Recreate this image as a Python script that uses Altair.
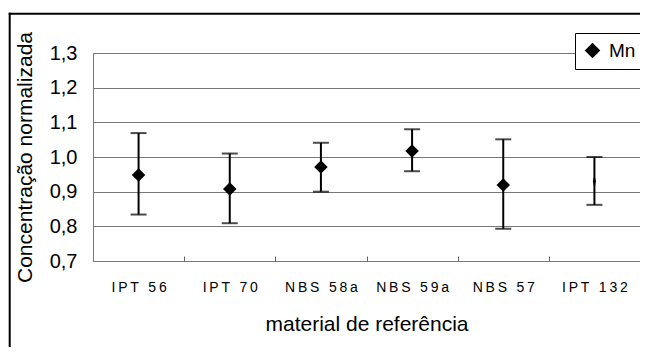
import altair as alt
import pandas as pd

materiais = ["IPT 56", "IPT 70", "NBS 58a", "NBS 59a", "NBS 57", "IPT 132"]
valores = [0.948, 0.908, 0.971, 1.017, 0.919, 0.93]
erro_inf = [0.834, 0.809, 0.900, 0.959, 0.793, 0.862]
erro_sup = [1.069, 1.010, 1.041, 1.080, 1.051, 1.000]
serie = ["Mn"] * len(materiais)
y_ticks = [0.7, 0.8, 0.9, 1.0, 1.1, 1.2, 1.3]

df = pd.DataFrame({"material": materiais, "valor": valores,
                   "inf": erro_inf, "sup": erro_sup, "serie": serie})

W, H = 547, 208
FONT = "Liberation Sans"

x_axis = alt.Axis(title="material de referência", titleFontSize=21,
                  titleFontWeight="normal", titleColor="black",
                  titlePadding=19, labelFontSize=14, labelColor="black",
                  labelAngle=0, labelPadding=19,
                  labelExpr="join(split(datum.label, ''), '\u2009')",
                  domain=False, ticks=True, tickSize=5, tickColor="#666666",
                  tickBand="extent", offset=-5, grid=False)
y_axis = alt.Axis(title="Concentração normalizada", titleFontSize=21,
                  titleFontWeight="normal", titleColor="black",
                  titlePadding=14, values=y_ticks, labelFontSize=20,
                  labelColor="black", labelPadding=16, ticks=False,
                  labelOverlap=False,
                  labelExpr="replace(format(datum.value, '.1f'), '.', ',')",
                  grid=True, gridColor="#777777", gridWidth=1,
                  domain=True, domainColor="#777777")
x_scale = alt.Scale(paddingInner=0, paddingOuter=0)
y_scale = alt.Scale(domain=[0.7, 1.3], nice=False)

def X():
    return alt.X("material:N", sort=materiais, scale=x_scale, axis=x_axis)

def Y(field):
    return alt.Y(field, scale=y_scale, axis=y_axis)

base = alt.Chart(df)

bars = base.mark_rule(color="black", strokeWidth=2).encode(
    x=X(), y=Y("inf:Q"), y2="sup:Q")

caps_lo = base.mark_tick(color="black", thickness=2, size=16, orient="horizontal").encode(
    x=X(), y=Y("inf:Q"))
caps_hi = base.mark_tick(color="black", thickness=2, size=16, orient="horizontal").encode(
    x=X(), y=Y("sup:Q"))

pts = base.mark_point(filled=True, opacity=1, size=182).encode(
    x=X(), y=Y("valor:Q"),
    shape=alt.condition(alt.datum.material == "IPT 132",
                        alt.value("M0,-1L0.22,0L0,1L-0.22,0Z"),
                        alt.value("diamond")),
    color=alt.Color("serie:N", scale=alt.Scale(range=["black"]),
                    legend=alt.Legend(title=None, orient="none", legendX=482, legendY=-20,
                                      symbolType="diamond", symbolSize=182,
                                      symbolFillColor="black", symbolStrokeColor="black",
                                      labelFontSize=19, labelColor="black", labelOffset=7,
                                      padding=8, strokeColor="black", fillColor="white",
                                      cornerRadius=0)),
)

frame_data = alt.Data(values=[{}])
frame_top = alt.Chart(frame_data).mark_rule(color="black", strokeWidth=2).encode(
    x=alt.value(-84.3), x2=alt.value(W + 30), y=alt.value(-39.3))
frame_left = alt.Chart(frame_data).mark_rule(color="black", strokeWidth=2).encode(
    x=alt.value(-83.3), y=alt.value(-40.3), y2=alt.value(H + 120))

chart = alt.layer(frame_top, frame_left, bars, caps_lo, caps_hi, pts).properties(
    width=W, height=H,
    autosize=alt.AutoSizeParams(type="none"),
    padding={"left": 85, "top": 45, "right": 0, "bottom": 86},
    background="white",
).configure_view(stroke=None).configure(font=FONT)

chart.save("out.html", embed_options={"renderer": "svg", "actions": False})
